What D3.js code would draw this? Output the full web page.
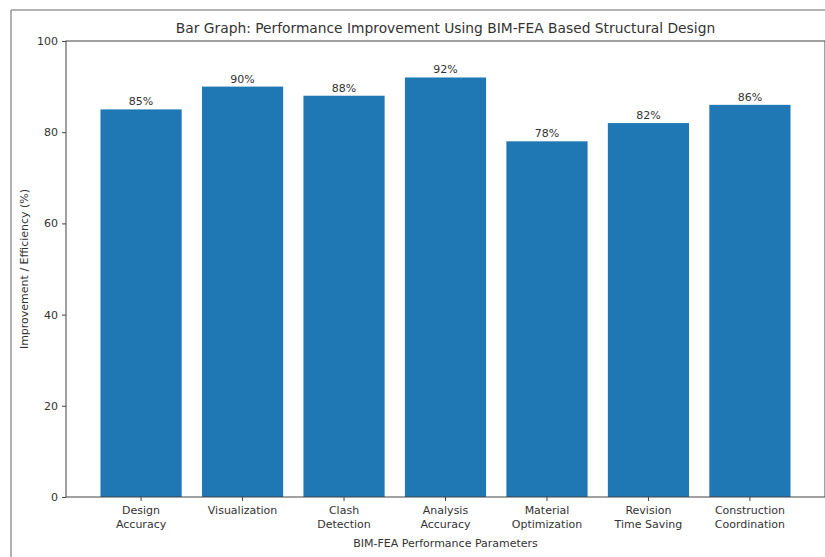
<!DOCTYPE html>
<html>
<head>
<meta charset="utf-8">
<script src="https://cdn.jsdelivr.net/npm/d3@7"></script>
<style>
  body { margin: 0; background: #fff; }
  svg { display: block; }
  text { font-family: "DejaVu Sans", sans-serif; fill: #333; }
</style>
</head>
<body>
<svg></svg>
<script>

var categories = [
    ["Design", "Accuracy"],
    ["Visualization"],
    ["Clash", "Detection"],
    ["Analysis", "Accuracy"],
    ["Material", "Optimization"],
    ["Revision", "Time Saving"],
    ["Construction", "Coordination"]
];
var values = [85, 90, 88, 92, 78, 82, 86];
var yTicks = [0, 20, 40, 60, 80, 100];

var width = 825, height = 557;
var plotLeft = 66, plotRight = 825, plotTop = 41, plotBottom = 497;

var svg = d3.select("svg")
    .attr("width", width)
    .attr("height", height);

svg.append("rect")
    .attr("width", width)
    .attr("height", height)
    .attr("fill", "white");

// frame of the screenshot (figure edge)
svg.append("line")
    .attr("x1", 11).attr("y1", 10).attr("x2", width).attr("y2", 10)
    .style("stroke", "#999").style("stroke-width", 1.5);
svg.append("line")
    .attr("x1", 11).attr("y1", 10).attr("x2", 11).attr("y2", height)
    .style("stroke", "#999").style("stroke-width", 1.5);

// matplotlib style x range: -0.74 .. 6.74
var xScale = d3.scaleLinear()
    .domain([-0.74, categories.length - 1 + 0.74])
    .range([plotLeft, plotRight]);

var yScale = d3.scaleLinear()
    .domain([0, 100])
    .range([plotBottom, plotTop]);

var barW = xScale(0.8) - xScale(0);

svg.selectAll(".bar")
    .data(values)
    .enter()
    .append("rect")
    .attr("class", "bar")
    .attr("x", function(d, i) { return xScale(i) - barW / 2; })
    .attr("y", function(d) { return yScale(d); })
    .attr("width", barW)
    .attr("height", function(d) { return yScale(0) - yScale(d); })
    .attr("fill", "#1f77b4");

// value labels
svg.selectAll(".val")
    .data(values)
    .enter()
    .append("text")
    .attr("class", "val")
    .attr("x", function(d, i) { return xScale(i); })
    .attr("y", function(d) { return yScale(d) - 4; })
    .attr("text-anchor", "middle")
    .style("font-size", "11px")
    .text(function(d) { return d + "%"; });

// y axis
var y_axis = d3.axisLeft(yScale)
    .tickValues(yTicks)
    .tickSize(4)
    .tickPadding(4);

var gy = svg.append("g")
    .attr("transform", "translate(" + plotLeft + ",0)")
    .call(y_axis);
gy.select(".domain").remove();
gy.selectAll("line").style("stroke", "#444");
gy.selectAll("text").style("font-size", "11px").style("fill", "#333")
    .style("font-family", "DejaVu Sans, sans-serif");

// x ticks
var gx = svg.append("g");
categories.forEach(function(c, i) {
    gx.append("line")
        .attr("x1", xScale(i)).attr("x2", xScale(i))
        .attr("y1", plotBottom).attr("y2", plotBottom + 4)
        .style("stroke", "#444");
    var t = gx.append("text")
        .attr("x", xScale(i))
        .attr("y", plotBottom + 17)
        .attr("text-anchor", "middle")
        .style("font-size", "11px");
    c.forEach(function(line, k) {
        t.append("tspan")
            .attr("x", xScale(i))
            .attr("dy", k === 0 ? 0 : 14)
            .text(line);
    });
});

// spines
svg.append("rect")
    .attr("x", plotLeft).attr("y", plotTop)
    .attr("width", plotRight - plotLeft).attr("height", plotBottom - plotTop)
    .attr("fill", "none")
    .style("stroke", "#444")
    .style("stroke-width", 1);

// title and labels
svg.append("text")
    .attr("x", (plotLeft + plotRight) / 2)
    .attr("y", 33)
    .attr("text-anchor", "middle")
    .style("font-size", "13.8px")
    .text("Bar Graph: Performance Improvement Using BIM-FEA Based Structural Design");

svg.append("text")
    .attr("x", (plotLeft + plotRight) / 2)
    .attr("y", 547)
    .attr("text-anchor", "middle")
    .style("font-size", "11px")
    .text("BIM-FEA Performance Parameters");

svg.append("text")
    .attr("transform", "translate(28," + ((plotTop + plotBottom) / 2) + ") rotate(-90)")
    .attr("text-anchor", "middle")
    .style("font-size", "11px")
    .text("Improvement / Efficiency (%)");

</script>
</body>
</html>
